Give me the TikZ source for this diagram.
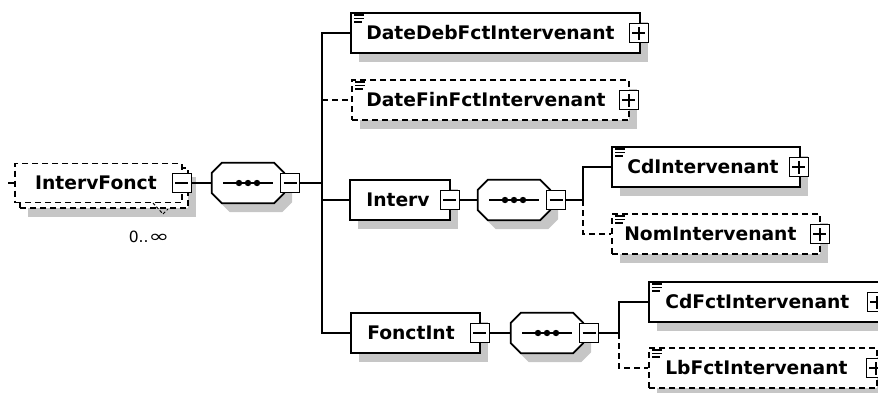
\documentclass[tikz,border=0pt]{standalone}
\usepackage{fontspec}
\setmainfont{DejaVu Sans}
\usepackage{xcolor}
\usepackage{graphicx}
\usetikzlibrary{shadows,calc}

\tikzstyle{line} = [draw, line width=1.7pt]
\tikzstyle{opt} = [line, dash pattern=on 6pt off 4pt]
\tikzstyle{box} = [draw, line width=1.8pt, fill=white, inner sep=0, minimum height=40]
\tikzstyle{shadowed} = [drop shadow={shadow xshift=8pt, shadow yshift=-9pt, fill=gray!45, opacity=1, draw=none}]
\tikzstyle{elem} = [box, shadowed]
\tikzstyle{optelem} = [elem, dash pattern=on 6pt off 4pt]
\tikzstyle{seq} = [inner sep=0, minimum width=72, minimum height=40]
\tikzstyle{pm} = [draw, line width=1.4pt, fill=white, minimum size=19, inner sep=0]
\tikzstyle{minus} = [pm, path picture={\draw[line width=1.4pt] ([xshift=3pt]path picture bounding box.west) -- ([xshift=-3pt]path picture bounding box.east);}]
\tikzstyle{plus} = [pm, path picture={\draw[line width=1.4pt] ([xshift=3pt]path picture bounding box.west) -- ([xshift=-3pt]path picture bounding box.east) ([yshift=3pt]path picture bounding box.south) -- ([yshift=-3pt]path picture bounding box.north);}]
\tikzstyle{lbl} = [font=\fontsize{18.7}{20}\selectfont\bfseries, inner sep=0, anchor=west]
\tikzstyle{icon} = [line width=1.5pt]

% octagon of a sequence, with its dots
\newcommand{\seqshape}[1]{
	\draw[box, shadowed] ($(#1.north west)+(10,0)$) -- ($(#1.north east)+(-10,0)$) -- ($(#1.north east)+(0,10)$)
		-- ($(#1.south east)+(0,-10)$) -- ($(#1.south east)+(-10,0)$) -- ($(#1.south west)+(10,0)$)
		-- ($(#1.south west)+(0,-10)$) -- ($(#1.north west)+(0,10)$) -- cycle;
	\draw[line] ($(#1.center)+(-25,0)$) -- ($(#1.center)+(25,0)$);
	\foreach \d in {-9,0,9}
		\fill ($(#1.center)+(\d,0)$) circle (3.2);
}

\begin{document}
\begin{tikzpicture}[x=1pt,y=-1pt]

\clip (0,0) rectangle (878,392);
%\draw[help lines,step=10] (0,0) grid (878,392);

% root element (repeated)
\node[optelem, minimum width=168] (intervb) at (104,188) {};
\node[box, dash pattern=on 6pt off 4pt, minimum width=167, minimum height=39] (intervf) at (98.5,183) {};
\node[lbl] (intervft) at (35,183) {IntervFonct};
\node[minus] (intervfm) at ([xshift=-1pt]intervf.east) {};
\coordinate (rootin) at (8,183);
\draw[opt] (rootin) -- (intervf);
\coordinate (occa) at (153,203);
\coordinate (occb) at (163,214);
\draw[line width=1pt, dash pattern=on 3pt off 2pt] (occa) -- (occb) -- ++(5,-5);
\node[font=\fontsize{15.5}{16}\selectfont, inner sep=0] (occ) at (149,237) {0..\scalebox{1.6}[1.1]{∞}};

% sequence
\node[seq] (seq1) at (248,183) {};
\seqshape{seq1}
\node[minus] (seq1m) at (290,183) {};
\draw[line] (intervfm) -- (seq1);
\coordinate (bus) at (322,183);
\draw[line] (seq1m) -- (bus);

\node[elem, minimum width=289] (datedeb) at (495.5,33) {};
\node[optelem, minimum width=277] (datefin) at (490.5,100) {};
\node[elem, minimum width=100] (interv) at (400,200) {};
\node[elem, minimum width=129] (fonctint) at (415.5,333) {};

\draw[line] (bus) |- (datedeb);
\draw[line] (bus) |- (fonctint);
\draw[line] (bus) |- (interv);
\draw[opt] (bus |- datefin) -- (datefin);

\node[lbl] (datedebt) at ([xshift=16pt]datedeb.west) {DateDebFctIntervenant};
\node[lbl] (datefint) at ([xshift=15pt]datefin.west) {DateFinFctIntervenant};
\node[lbl] (intervt) at ([xshift=17pt]interv.west) {Interv};
\node[lbl] (fonctintt) at ([xshift=17pt]fonctint.west) {FonctInt};
\node[plus] (datedebp) at ([xshift=-2pt]datedeb.east) {};
\node[plus] (datefinp) at ([xshift=-1pt]datefin.east) {};

% Interv
\node[minus] (intervm) at ([xshift=-1pt]interv.east) {};
\node[seq] (seq2) at (514,200) {};
\seqshape{seq2}
\node[minus] (seq2m) at (556,200) {};
\draw[line] (intervm) -- (seq2);
\coordinate (bus2) at (583,200);
\draw[line] (seq2m) -- (bus2);
\node[elem, minimum width=188] (cdint) at (706,167) {};
\node[optelem, minimum width=208] (nomint) at (716,234) {};
\draw[line] (bus2) |- (cdint);
\draw[opt] (bus2) |- (nomint);
\node[lbl] (cdintt) at ([xshift=16pt]cdint.west) {CdIntervenant};
\node[lbl] (nomintt) at ([xshift=13pt]nomint.west) {NomIntervenant};
\node[plus] (cdintp) at ([xshift=-2pt]cdint.east) {};
\node[plus] (nomintp) at ([xshift=-1pt]nomint.east) {};

% FonctInt
\node[minus] (fonctintm) at ([xshift=-1pt]fonctint.east) {};
\node[seq] (seq3) at (547,333) {};
\seqshape{seq3}
\node[minus] (seq3m) at (589,333) {};
\draw[line] (fonctintm) -- (seq3);
\coordinate (bus3) at (619,333);
\draw[line] (seq3m) -- (bus3);
\node[elem, minimum width=232] (cdfct) at (765,302) {};
\node[optelem, minimum width=228] (lbfct) at (763,368) {};
\draw[line] (bus3) |- (cdfct);
\draw[opt] (bus3) |- (lbfct);
\node[lbl] (cdfctt) at ([xshift=17pt]cdfct.west) {CdFctIntervenant};
\node[lbl] (lbfctt) at ([xshift=17pt]lbfct.west) {LbFctIntervenant};
\node[plus] (cdfctp) at ([xshift=-5pt]cdfct.east) {};
\node[plus] (lbfctp) at ([xshift=-2pt]lbfct.east) {};

\foreach \n in {datedeb,datefin,cdint,nomint,cdfct,lbfct} {
	\draw[icon] ($(\n.north west)+(4,3)$) -- ++(10,0);
	\draw[icon] ($(\n.north west)+(4,6.5)$) -- ++(10,0);
	\draw[icon] ($(\n.north west)+(4,10)$) -- ++(8,0);
}

\end{tikzpicture}
\end{document}
